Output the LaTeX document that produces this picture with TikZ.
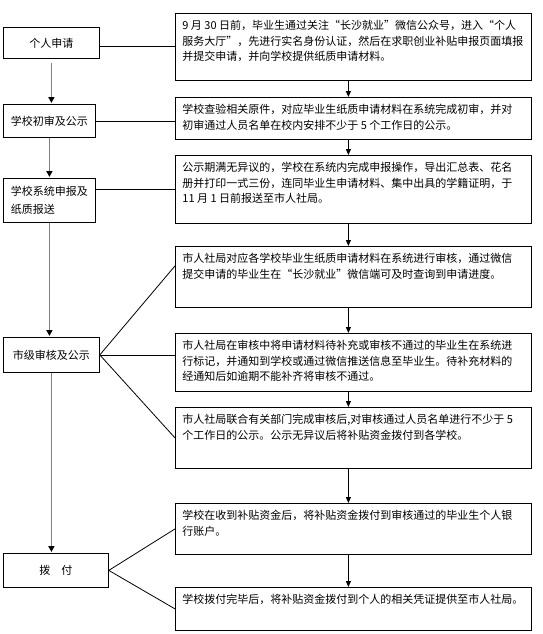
\documentclass[tikz,border=0pt]{standalone}
\usepackage{fontspec}
\newfontfamily\cjk{Noto Sans CJK SC}
\usetikzlibrary{arrows.meta}

\begin{document}
\begin{tikzpicture}[x=1pt,y=-1pt,
every node/.style={draw,line width=.8pt,anchor=north west,
  font=\cjk\fontsize{11}{15.5}\selectfont},
stage/.style={minimum height=32pt,inner sep=2pt},
detail/.style={inner xsep=7pt,inner ysep=7pt},
flow/.style={line width=.8pt,-{Triangle[width=5pt,length=6pt]}},
down/.style={draw=gray,line width=1.6pt,shorten >=1pt,
  -{Triangle[width=6pt,length=6pt,color=black]}},
link/.style={line width=.8pt}]

\useasboundingbox (0,0) rectangle (542,634);

% left column: stages
\node[stage,minimum width=96pt,minimum height=31pt] (ap) at (3,27) {个人申请};
\node[stage,minimum width=92pt,minimum height=33pt] (xs) at (3,104) {学校初审及公示};
\node[stage,minimum width=92pt,minimum height=44pt,align=left,
  font=\cjk\fontsize{11}{18}\selectfont] (xt) at (3,178) {学校系统申报及\\纸质报送};
\node[stage,minimum width=96pt,minimum height=35pt] (sj) at (3,337) {市级审核及公示};
\node[stage,minimum width=105pt,minimum height=34pt] (bf) at (3,553) {拨　付};

% right column: details
\node[detail] (r1) at (175,13) {\parbox[t][53pt][t]{342pt}{9 月 30 日前，毕业生通过关注“长沙就业”微信公众号，进入“个人\\服务大厅”，先进行实名身份认证，然后在求职创业补贴申报页面填报\\并提交申请，并向学校提供纸质申请材料。}};
\node[detail] (r2) at (175,97) {\parbox[t][28pt][t]{342pt}{学校查验相关原件，对应毕业生纸质申请材料在系统完成初审，并对\\初审通过人员名单在校内安排不少于 5 个工作日的公示。}};
\node[detail] (r3) at (175,155) {\parbox[t][54pt][t]{342pt}{公示期满无异议的，学校在系统内完成申报操作，导出汇总表、花名\\册并打印一式三份，连同毕业生申请材料、集中出具的学籍证明，于\\11 月 1 日前报送至市人社局。}};
\node[detail] (r4) at (175,246) {\parbox[t][47pt][t]{342pt}{市人社局对应各学校毕业生纸质申请材料在系统进行审核，通过微信\\提交申请的毕业生在“长沙就业”微信端可及时查询到申请进度。}};
\node[detail] (r5) at (175,333) {\parbox[t][44pt][t]{342pt}{市人社局在审核中将申请材料待补充或审核不通过的毕业生在系统进\\行标记，并通知到学校或通过微信推送信息至毕业生。待补充材料的\\经通知后如逾期不能补齐将审核不通过。}};
\node[detail] (r6) at (175,407) {\parbox[t][47pt][t]{342pt}{市人社局联合有关部门完成审核后,对审核通过人员名单进行不少于 5\\个工作日的公示。公示无异议后将补贴资金拨付到各学校。}};
\node[detail] (r7) at (175,503) {\parbox[t][37pt][t]{342pt}{学校在收到补贴资金后，将补贴资金拨付到审核通过的毕业生个人银\\行账户。}};
\node[detail] (r8) at (175,587) {\parbox[t][29pt][t]{342pt}{学校拨付完毕后，将补贴资金拨付到个人的相关凭证提供至市人社局。}};

% left arrows
\draw[down,shorten <=4pt] (ap.south) -- (ap.south |- xs.north);
\draw[down] (xs.south) -- (xs.south |- xt.north);
\draw[down] (xt.south) -- (xt.south |- sj.north);
\draw[down] (sj.south) -- (sj.south |- bf.north);

% right arrows
\draw[flow] ([xshift=-5pt]r1.south) -- ([xshift=-5pt]r2.north);
\draw[flow] ([xshift=-5pt]r2.south) -- ([xshift=-5pt]r3.north);
\draw[flow] ([xshift=-5pt]r3.south) -- ([xshift=-5pt]r4.north);
\draw[flow] ([xshift=-5pt]r4.south) -- ([xshift=-5pt]r5.north);
\draw[flow] ([xshift=-5pt]r5.south) -- ([xshift=-5pt]r6.north);
\draw[flow] ([xshift=-5pt]r6.south) -- ([xshift=-5pt]r7.north);
\draw[flow] ([xshift=-5pt]r7.south) -- ([xshift=-5pt]r8.north);

% links stage -> details
\draw[link] (ap.east |- r1.west) -- (r1.west);
\draw[link] (xs.east) -- (xs.east -| r2.west);
\draw[link] (xt.east |- r3.west) -- (r3.west);
\draw[link] (sj.east) -- ([yshift=11pt]r4.west);
\draw[link] (sj.east) -- (sj.east -| r5.west);
\draw[link] (sj.east) -- (r6.west);
\draw[link] (bf.east) -- (r7.west);
\draw[link] (bf.east) -- (r8.west);
\end{tikzpicture}
\end{document}
